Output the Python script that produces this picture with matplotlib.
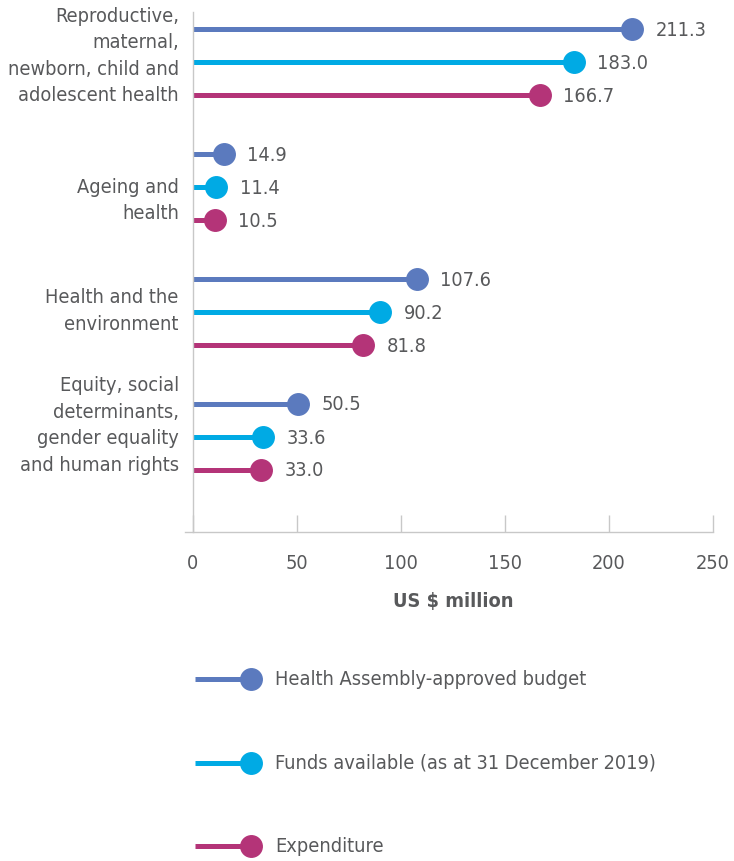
import matplotlib
matplotlib.use("Agg")
import matplotlib.pyplot as plt

categories = [
    "Reproductive,\nmaternal,\nnewborn, child and\nadolescent health",
    "Ageing and\nhealth",
    "Health and the\nenvironment",
    "Equity, social\ndeterminants,\ngender equality\nand human rights",
]
series_names = [
    "Health Assembly-approved budget",
    "Funds available (as at 31 December 2019)",
    "Expenditure",
]
budget = [211.3, 14.9, 107.6, 50.5]
funds = [183.0, 11.4, 90.2, 33.6]
expenditure = [166.7, 10.5, 81.8, 33.0]
series_values = [budget, funds, expenditure]
colors = ["#5B7ABE", "#00AAE4", "#B43478"]
xticks = [0, 50, 100, 150, 200, 250]
xlabel = "US $ million"

# style: vertical nudges of the category labels (points)
label_nudge = [5, -9, 1.5, 9]

plt.rcParams["font.family"] = ["DejaVu Sans"]
plt.rcParams["font.stretch"] = "condensed"
txt = "#58595B"
grey = "#c8c8c8"
fs = 14.3

W, H = 734, 862
fig = plt.figure(figsize=(W / 100, H / 100), dpi=100)
ax = fig.add_axes([192.7 / W, 1 - 533 / H, (713 - 192.7) / W, (533 - 13) / H])

gap = 125 / 33
lw = 5 / 100 * 72
ms = 21.5 / 100 * 72
for g, cat in enumerate(categories):
    for i, vals in enumerate(series_values):
        y = g * gap + i
        ax.plot([0, vals[g]], [y, y], color=colors[i], lw=lw, solid_capstyle="butt", zorder=2)
        ax.plot([vals[g]], [y], "o", color=colors[i], ms=ms, zorder=3)
        ax.annotate(f"{vals[g]:.1f}", (vals[g], y), xytext=(17, 0), textcoords="offset points",
                    ha="left", va="center", fontsize=fs, color=txt)
    ax.annotate(cat, (0, g * gap + 1), xycoords=("axes fraction", "data"),
                xytext=(-10, label_nudge[g]), textcoords="offset points",
                ha="right", va="center", fontsize=fs, color=txt, linespacing=1.5)

ax.set_xlim(0, 250)
ax.set_ylim(503 / 33, -17 / 33)
ax.set_yticks([])
ax.set_xticks(xticks)
ax.tick_params(axis="x", direction="in", length=12, width=1, color=grey, pad=15,
               labelsize=fs, labelcolor=txt)
for s in ["top", "right"]:
    ax.spines[s].set_visible(False)
for s in ["left", "bottom"]:
    ax.spines[s].set_color(grey)
    ax.spines[s].set_linewidth(1)
ax.spines["bottom"].set_bounds(-3.5, 250)
ax.set_xlim(-3.5 * 0 + 0, 250)
ax.set_xlabel(xlabel, fontsize=fs, fontweight="bold", color=txt, labelpad=14)

# legend
lax = fig.add_axes([0, 0, 1, 1])
lax.set_xlim(0, W)
lax.set_ylim(H, 0)
lax.axis("off")
for i, name in enumerate(series_names):
    y = 680 + i * 83.5
    lax.plot([195, 251], [y, y], color=colors[i], lw=lw, solid_capstyle="butt")
    lax.plot([251], [y], "o", color=colors[i], ms=ms)
    lax.text(275, y, name, ha="left", va="center", fontsize=fs, color=txt)

fig.savefig("out.png", dpi=100)
